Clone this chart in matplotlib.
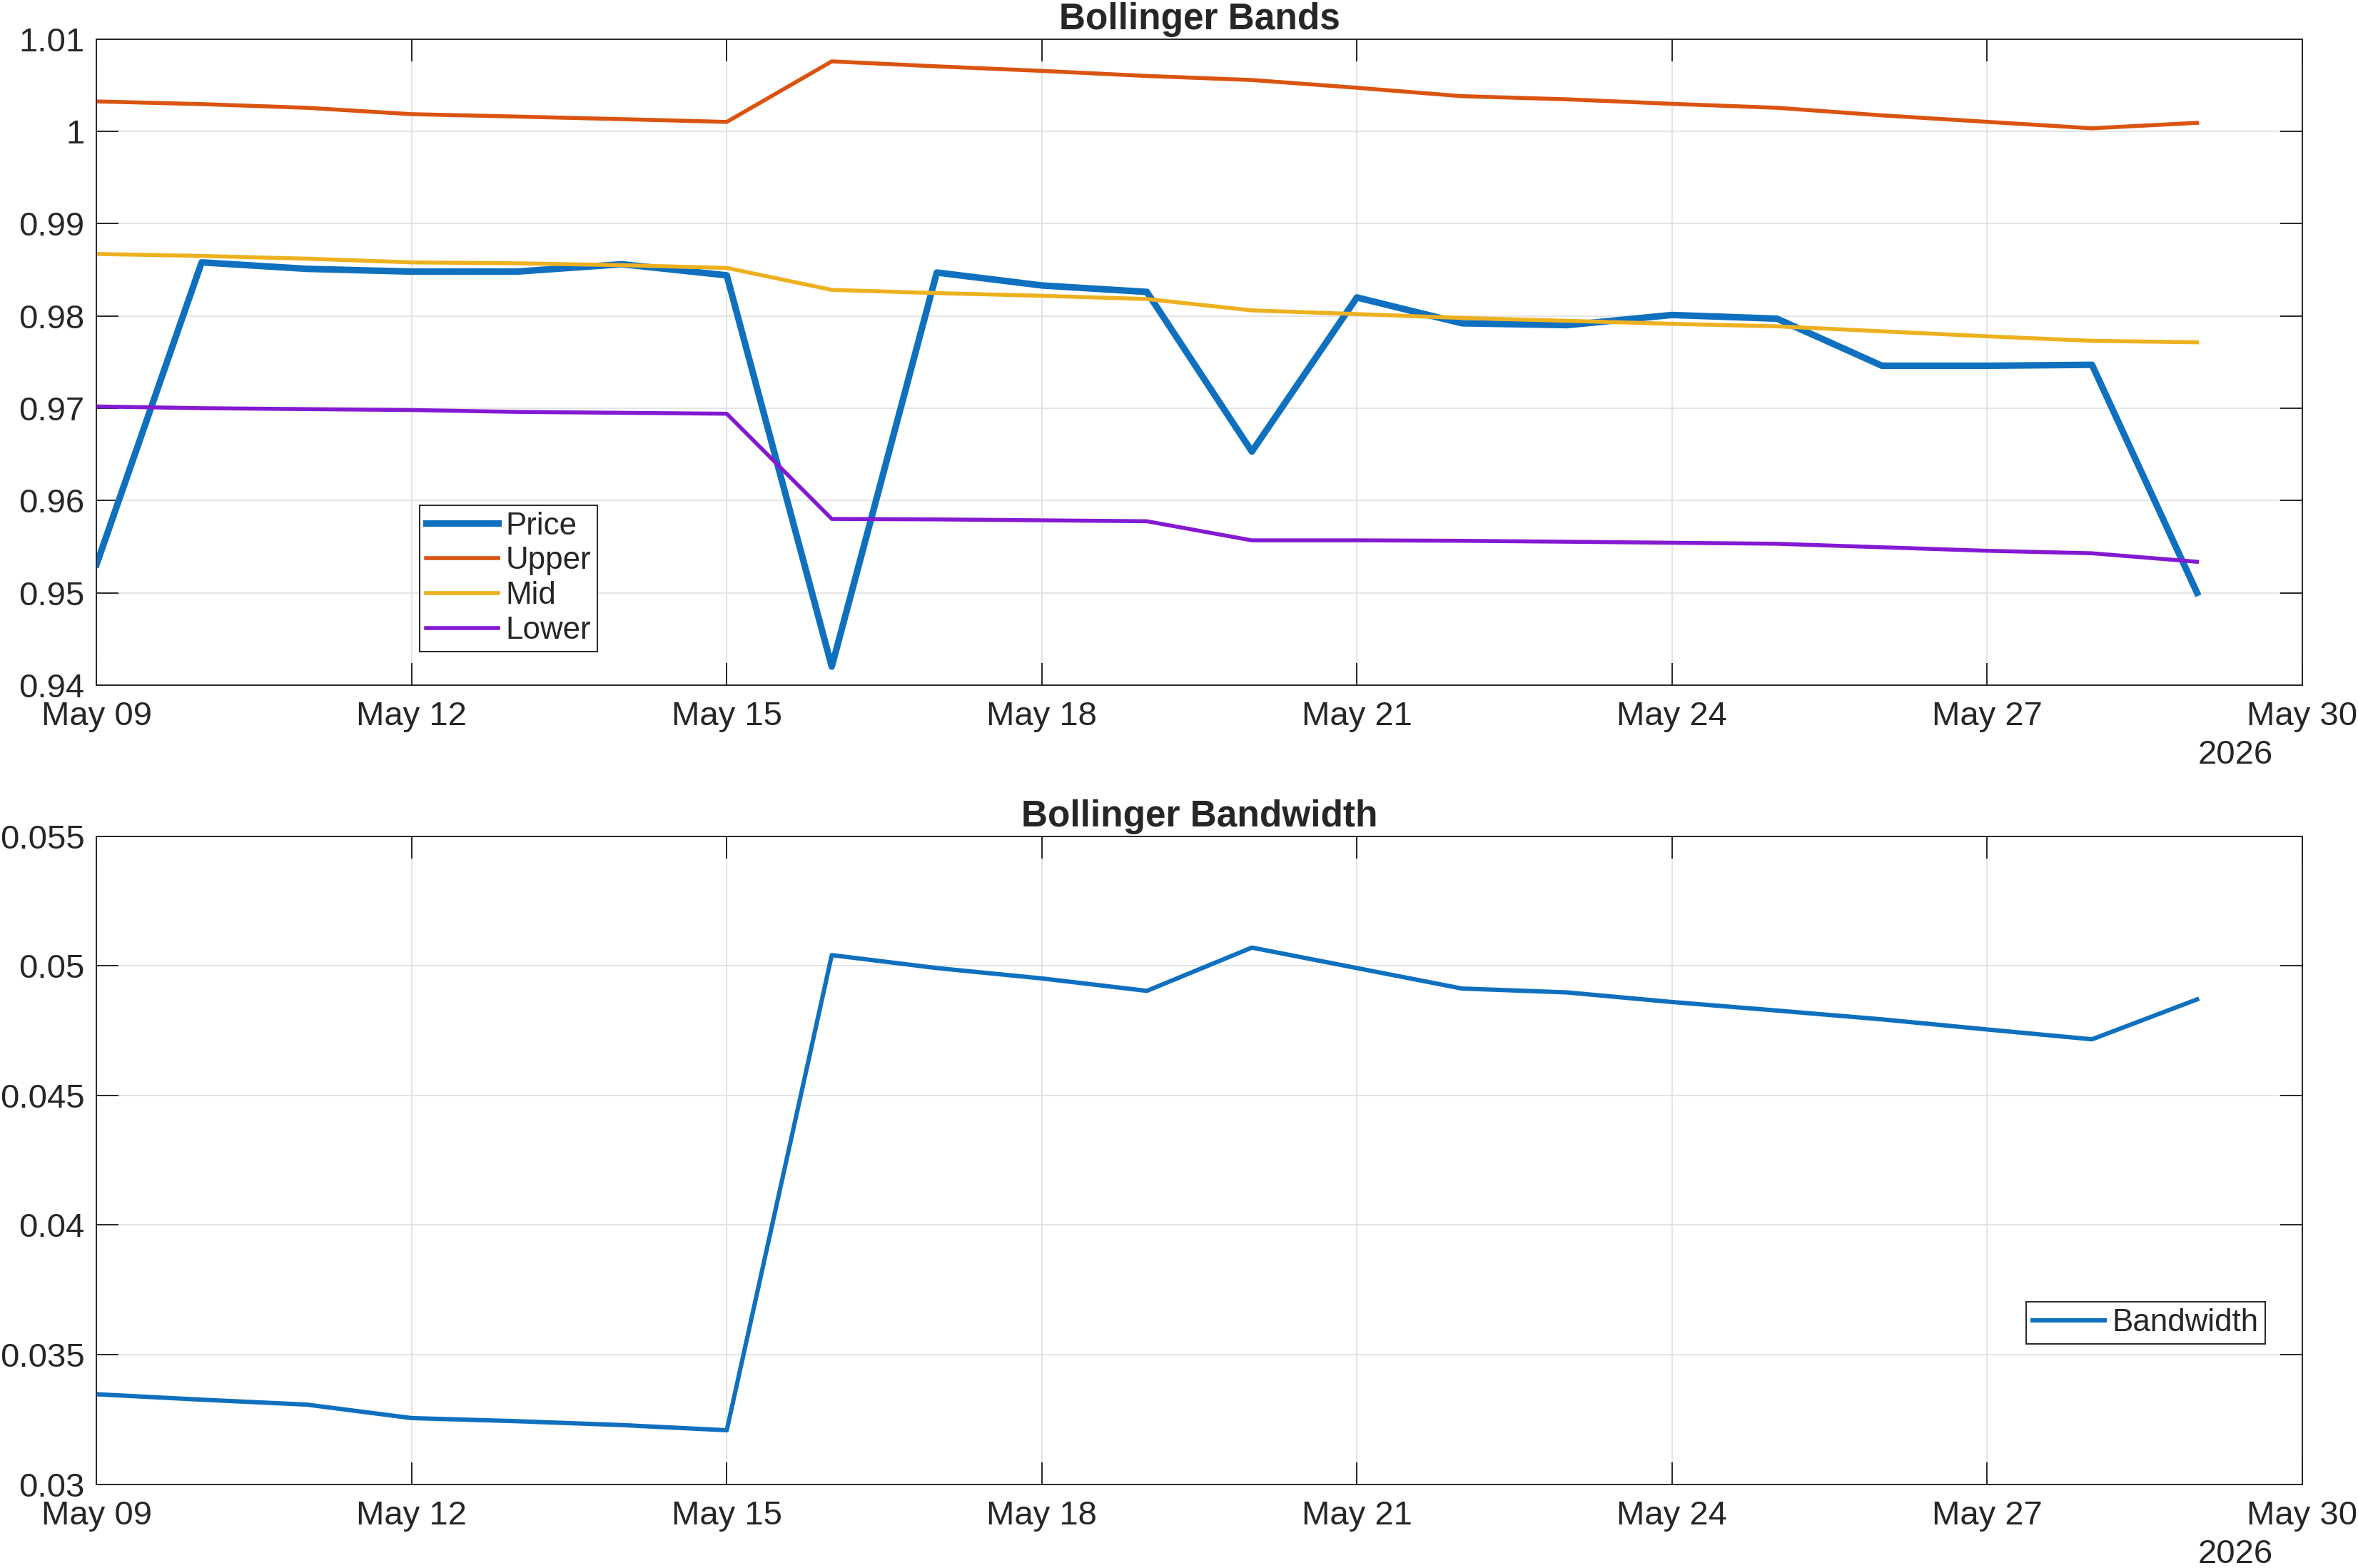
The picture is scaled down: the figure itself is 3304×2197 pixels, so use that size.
"""
Bollinger Bands + Bandwidth, estilo MATLAB.
"""

import numpy as np
import pandas as pd
import matplotlib
matplotlib.use("Agg")
import matplotlib.pyplot as plt
import matplotlib.dates as mdates
from matplotlib.ticker import FuncFormatter, FixedLocator

# ============================================================
# DADOS
# ============================================================

dates = pd.date_range("2026-05-09", "2026-05-29", freq="D")

price = [0.9531, 0.9858, 0.9851, 0.9848, 0.9848, 0.9856, 0.9844,
         0.9420, 0.9847, 0.9833, 0.9826, 0.9653, 0.9820, 0.9792,
         0.9790, 0.9801, 0.9797, 0.9746, 0.9746, 0.9747, 0.9500]

upper = [1.00324, 1.00295, 1.00255, 1.00186, 1.00160, 1.00132, 1.00102,
         1.00758, 1.00704, 1.00655, 1.00600, 1.00556, 1.00472, 1.00381,
         1.00347, 1.00298, 1.00255, 1.00173, 1.00103, 1.00033, 1.00092]

mid = [0.98671, 0.98650, 0.98620, 0.98580, 0.98570, 0.98550, 0.98520,
       0.98282, 0.98247, 0.98218, 0.98183, 0.98060, 0.98020, 0.97978,
       0.97947, 0.97914, 0.97887, 0.97833, 0.97779, 0.97730, 0.97714]

lower = [0.97019, 0.97000, 0.96990, 0.96980, 0.96960, 0.96950, 0.96940,
         0.95800, 0.95795, 0.95785, 0.95775, 0.95568, 0.95568, 0.95563,
         0.95553, 0.95542, 0.95531, 0.95493, 0.95455, 0.95428, 0.95336]

bandwidth = [0.03347, 0.03326, 0.03307, 0.03255, 0.03243, 0.03228, 0.03208,
             0.05042, 0.04992, 0.04952, 0.04904, 0.05071, 0.04992, 0.04913,
             0.04898, 0.04861, 0.04828, 0.04794, 0.04755, 0.04717, 0.04871]

xlim = (pd.Timestamp("2026-05-09"), pd.Timestamp("2026-05-30"))
xticks = pd.date_range("2026-05-09", "2026-05-30", freq="3D")
yticks_top = [0.94, 0.95, 0.96, 0.97, 0.98, 0.99, 1.0, 1.01]
yticks_bot = [0.03, 0.035, 0.04, 0.045, 0.05, 0.055]

# ============================================================
# ESTILO
# ============================================================

C_PRICE = "#0F70BF"
C_UPPER = "#DA5410"
C_MID = "#EDB120"
C_LOWER = "#8419D2"
TXT = "#262626"

plt.rcParams["font.family"] = ["Liberation Sans", "DejaVu Sans"]
plt.rcParams["font.size"] = 17
plt.rcParams["text.color"] = TXT
plt.rcParams["axes.labelcolor"] = TXT
plt.rcParams["xtick.color"] = TXT
plt.rcParams["ytick.color"] = TXT


def style_axes(ax, yticks):
    ax.set_xlim(mdates.date2num(xlim[0]), mdates.date2num(xlim[1]))
    ax.set_ylim(yticks[0], yticks[-1])
    ax.xaxis.set_major_locator(FixedLocator(mdates.date2num(xticks)))
    ax.xaxis.set_major_formatter(mdates.DateFormatter("%b %d"))
    ax.yaxis.set_major_locator(FixedLocator(yticks))
    ax.yaxis.set_major_formatter(FuncFormatter(lambda v, p: f"{v:g}"))
    ax.tick_params(direction="in", length=11, width=0.7, labelsize=17,
                   top=True, right=True, colors=TXT)
    ax.tick_params(axis="x", pad=8)
    ax.tick_params(axis="y", pad=6)
    ax.grid(True, color="#DFDFDF", linewidth=0.6)
    ax.set_axisbelow(True)
    for sp in ax.spines.values():
        sp.set_color(TXT)
        sp.set_linewidth(0.7)
    # ano abaixo do último rótulo de data (estilo datetime do MATLAB)
    ax.annotate("2026", xy=(0.9868, 0), xycoords="axes fraction",
                xytext=(0, -27.5), textcoords="offset points",
                ha="right", va="top", fontsize=17, color=TXT)


fig = plt.figure(figsize=(16.52, 10.985), dpi=200)
ax1 = fig.add_axes([0.04098, 0.5631, 0.9353, 0.4120])
ax2 = fig.add_axes([0.04098, 0.05348, 0.9353, 0.41307])

# ---- Bollinger Bands ----
ax1.plot(dates, price, color=C_PRICE, linewidth=3.3, label="Price")
ax1.plot(dates, upper, color=C_UPPER, linewidth=2.0, label="Upper")
ax1.plot(dates, mid, color=C_MID, linewidth=2.0, label="Mid")
ax1.plot(dates, lower, color=C_LOWER, linewidth=2.0, label="Lower")
style_axes(ax1, yticks_top)
ax1.set_title("Bollinger Bands", fontsize=18.5, fontweight="bold", pad=5, color=TXT)
leg1 = ax1.legend(loc="lower left", bbox_to_anchor=(0.1465, 0.0517),
                  borderaxespad=0, fontsize=15.8, handlelength=2.3,
                  handletextpad=0.25, labelspacing=0.18, borderpad=0.2,
                  fancybox=False, framealpha=1)
leg1.get_frame().set_edgecolor(TXT)
leg1.get_frame().set_linewidth(0.7)

# ---- Bollinger Bandwidth ----
ax2.plot(dates, bandwidth, color=C_PRICE, linewidth=2.2, label="Bandwidth")
style_axes(ax2, yticks_bot)
ax2.set_title("Bollinger Bandwidth", fontsize=18.5, fontweight="bold", pad=5, color=TXT)
leg2 = ax2.legend(loc="lower right", bbox_to_anchor=(0.9832, 0.2165),
                  borderaxespad=0, fontsize=15.8, handlelength=2.3,
                  handletextpad=0.25, borderpad=0.2,
                  fancybox=False, framealpha=1)
leg2.get_frame().set_edgecolor(TXT)
leg2.get_frame().set_linewidth(0.7)

fig.savefig("out.png", dpi=200)
plt.close(fig)
